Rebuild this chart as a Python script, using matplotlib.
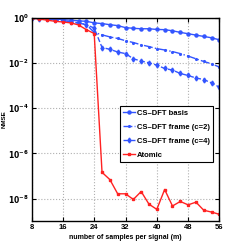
import numpy as np
import matplotlib
matplotlib.use("Agg")
import matplotlib.pyplot as plt

m = list(range(8, 57, 2))
basis_log = [0, 0, -0.015, -0.045, -0.075, -0.10, -0.13, -0.15, -0.22, -0.25, -0.30, -0.34, -0.43,
             -0.46, -0.48, -0.48, -0.51, -0.52, -0.57, -0.64, -0.70, -0.76, -0.82, -0.88, -0.97]
c2_log = [0, -0.02, -0.05, -0.08, -0.12, -0.17, -0.22, -0.30, -0.64, -0.75, -0.84, -0.91, -1.01,
          -1.09, -1.19, -1.27, -1.36, -1.42, -1.49, -1.58, -1.69, -1.81, -1.93, -2.03, -2.18]
c4_log = [0, -0.03, -0.06, -0.10, -0.14, -0.18, -0.23, -0.30, -0.45, -1.31, -1.39, -1.51, -1.58,
          -1.81, -1.91, -1.99, -2.09, -2.24, -2.31, -2.46, -2.55, -2.66, -2.73, -2.88, -3.07]
atomic_log = [-0.01, -0.05, -0.10, -0.15, -0.18, -0.22, -0.31, -0.52, -0.69, -6.84, -7.16, -7.79, -7.79,
              -8.04, -7.69, -8.25, -8.48, -7.60, -8.33, -8.13, -8.28, -8.16, -8.52, -8.60, -8.70]
labels = ["CS\u2013DFT basis", "CS\u2013DFT frame (c=2)", "CS\u2013DFT frame (c=4)", "Atomic"]
xticks = [8, 16, 24, 32, 40, 48, 56]
yticks = [1e0, 1e-2, 1e-4, 1e-6, 1e-8]

plt.rcParams['font.family'] = ['Liberation Sans', 'DejaVu Sans']
fig = plt.figure(figsize=(2.43, 2.49), dpi=100)
ax = fig.add_axes([0.13, 0.112, 0.773, 0.816])

blue = '#3355ff'
red = '#ff2222'
ax.semilogy(m, 10 ** np.array(basis_log), '-', color=blue, marker='o', ms=2.2, lw=1.0, label=labels[0])
ax.semilogy(m, 10 ** np.array(c2_log), '-.', color=blue, marker='.', ms=2.5, lw=1.0, label=labels[1])
ax.semilogy(m, 10 ** np.array(c4_log), '--', color=blue, marker='d', ms=2.5, lw=1.0, label=labels[2])
ax.semilogy(m, 10 ** np.array(atomic_log), '-', color=red, marker='s', ms=2.0, lw=1.0, label=labels[3])

ax.set_xlim(8, 56)
ax.set_ylim(1e-9, 1)
ax.set_xticks(xticks)
ax.set_xticklabels([str(t) for t in xticks])
ax.set_yticks(yticks)
ax.set_yticklabels([r'$\mathbf{10^{%d}}$' % int(np.log10(t)) for t in yticks])
ax.yaxis.set_minor_locator(matplotlib.ticker.NullLocator())
ax.tick_params(axis='both', which='major', direction='in', length=3, labelsize=5.5, top=True, right=True, pad=2)
for lab in ax.get_xticklabels():
    lab.set_fontweight('bold')
ax.grid(True, which='major', linestyle=':', color='#b0b0b0', lw=0.8)
for s in ax.spines.values():
    s.set_linewidth(1.0)
ax.set_xlabel('number of samples per signal (m)', fontsize=5, fontweight='bold', labelpad=2)
ax.set_ylabel('NMSE', fontsize=4.5, fontweight='bold')
ax.yaxis.set_label_coords(-0.135, 0.5)
leg = ax.legend(loc='upper left', bbox_to_anchor=(0.47, 0.565), fontsize=5.5, frameon=True,
                fancybox=False, edgecolor='black', framealpha=1, handlelength=1.5,
                borderpad=0.45, labelspacing=0.85, handletextpad=0.3, borderaxespad=0)
leg.get_frame().set_linewidth(0.8)
for t in leg.get_texts():
    t.set_fontweight('bold')
fig.savefig('out.png', dpi=100)
